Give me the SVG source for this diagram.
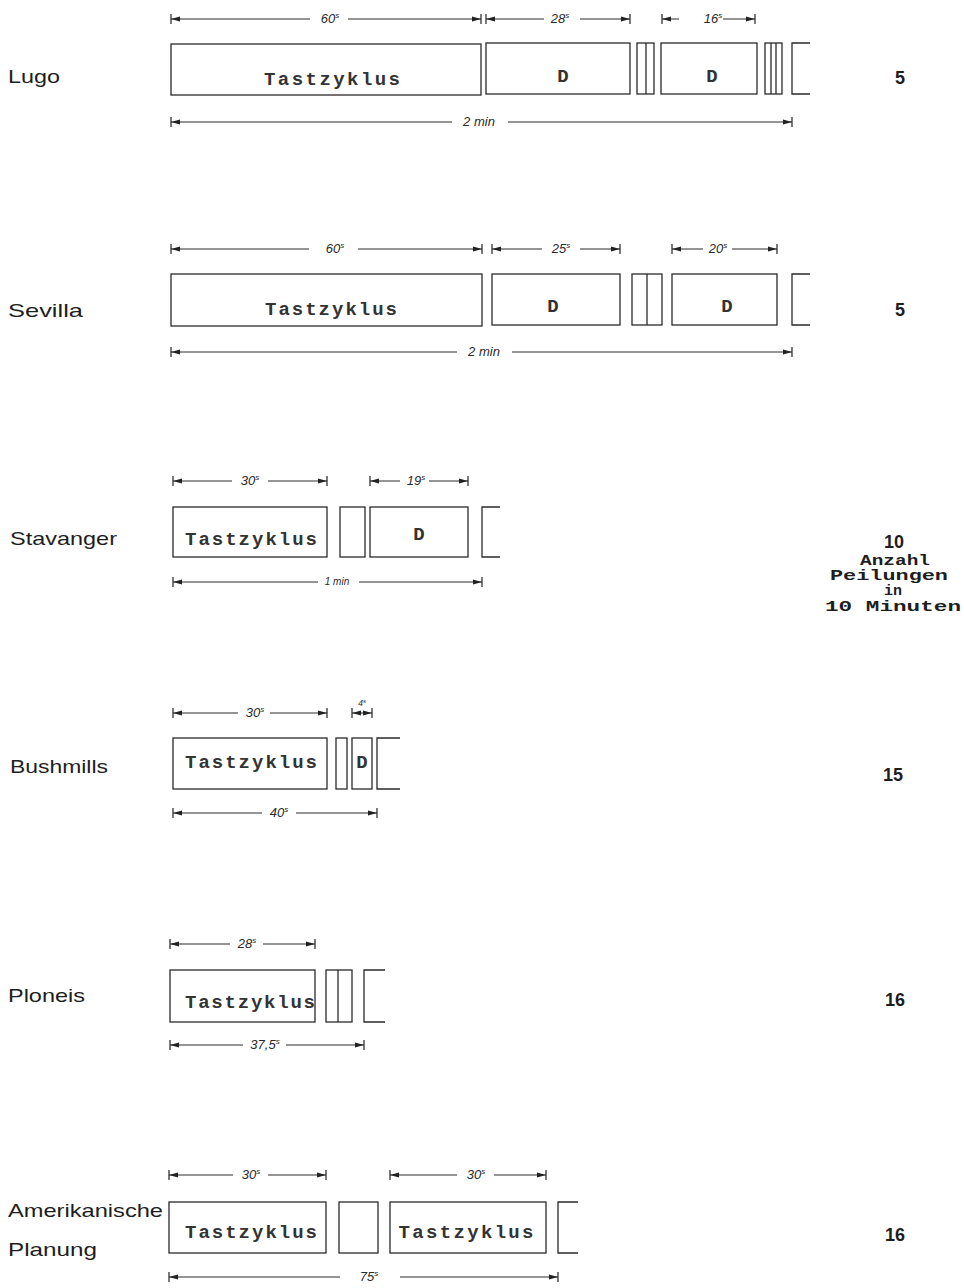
<svg xmlns="http://www.w3.org/2000/svg" width="964" height="1288" viewBox="0 0 964 1288">
<defs>
<marker id="ar" viewBox="-11 -6 12 12" refX="0" refY="0" markerWidth="12" markerHeight="12" markerUnits="userSpaceOnUse" orient="auto-start-reverse">
<path d="M-9,-2.6 L0,0 L-9,2.6 z" fill="#222"/>
<path d="M0,-5 V5" stroke="#222" stroke-width="1.2"/>
</marker>
<style>
.box{fill:none;stroke:#2a2a2a;stroke-width:1.3}
.dim{fill:none;stroke:#2a2a2a;stroke-width:1}
.ds{marker-start:url(#ar)}
.de{marker-end:url(#ar)}
.lbl{font-family:"Liberation Sans",Arial,sans-serif;font-size:19px;fill:#1e1e1e}
.tz{font-family:"Liberation Mono","Courier New",monospace;font-weight:bold;font-size:19px;fill:#333;text-anchor:middle}
.dl{font-family:"Liberation Sans",Arial,sans-serif;font-style:italic;font-size:13px;fill:#2a2a2a;text-anchor:middle}
.sup{font-size:8px}
.num{font-family:"Liberation Sans",Arial,sans-serif;font-weight:bold;font-size:18px;fill:#1e1e1e;text-anchor:middle}
.tw{font-family:"Liberation Mono","Courier New",monospace;font-weight:bold;font-size:14px;fill:#1e1e1e;text-anchor:middle}
</style>
</defs>
<rect width="964" height="1288" fill="#ffffff"/>

<g id="lugo">
<text class="lbl" x="8" y="83" textLength="52" lengthAdjust="spacingAndGlyphs">Lugo</text>
<rect class="box" x="171" y="44" width="310" height="51"/>
<text class="tz" x="332" y="85" textLength="136">Tastzyklus</text>
<rect class="box" x="486" y="43" width="144" height="51"/>
<text class="tz" x="563" y="82">D</text>
<rect class="box" x="637" y="43" width="17" height="51"/>
<path class="box" d="M646,43 V94"/>
<rect class="box" x="661" y="43" width="96" height="51"/>
<text class="tz" x="712" y="82">D</text>
<rect class="box" x="765" y="43" width="17" height="51"/>
<path class="box" d="M771,43 V94 M776,43 V94"/>
<path class="box" d="M810,43 H792 V94 H810"/>
<text class="num" x="900" y="84">5</text>
</g>

<g id="sevilla">
<text class="lbl" x="8" y="317" textLength="75" lengthAdjust="spacingAndGlyphs">Sevilla</text>
<rect class="box" x="171" y="274" width="311" height="52"/>
<text class="tz" x="331" y="315" textLength="132">Tastzyklus</text>
<rect class="box" x="492" y="274" width="128" height="51"/>
<text class="tz" x="553" y="312">D</text>
<rect class="box" x="632" y="274" width="30" height="51"/>
<path class="box" d="M647,274 V325"/>
<rect class="box" x="672" y="274" width="105" height="51"/>
<text class="tz" x="727" y="312">D</text>
<path class="box" d="M810,274 H792 V325 H810"/>
<text class="num" x="900" y="316">5</text>
</g>

<g id="stavanger">
<text class="lbl" x="10" y="545" textLength="107" lengthAdjust="spacingAndGlyphs">Stavanger</text>
<rect class="box" x="173" y="507" width="154" height="50"/>
<text class="tz" x="251" y="545" textLength="132">Tastzyklus</text>
<rect class="box" x="340" y="507" width="25" height="50"/>
<rect class="box" x="370" y="507" width="98" height="50"/>
<text class="tz" x="419" y="540">D</text>
<path class="box" d="M500,507 H482 V557 H500"/>
<text class="num" x="894" y="548">10</text>
<text class="tw" x="895" y="565" textLength="70" lengthAdjust="spacingAndGlyphs">Anzahl</text>
<text class="tw" x="889" y="580" textLength="118" lengthAdjust="spacingAndGlyphs">Peilungen</text>
<text class="tw" x="893" y="595" textLength="18" lengthAdjust="spacingAndGlyphs">in</text>
<text class="tw" x="893" y="611" textLength="136" lengthAdjust="spacingAndGlyphs">10 Minuten</text>
</g>

<g id="bushmills">
<text class="lbl" x="10" y="773" textLength="98" lengthAdjust="spacingAndGlyphs">Bushmills</text>
<rect class="box" x="173" y="738" width="154" height="51"/>
<text class="tz" x="251" y="768" textLength="132">Tastzyklus</text>
<rect class="box" x="336" y="738" width="11" height="51"/>
<rect class="box" x="352" y="738" width="20" height="51"/>
<text class="tz" x="362" y="768">D</text>
<path class="box" d="M400,738 H377 V789 H400"/>
<text class="num" x="893" y="781">15</text>
</g>

<g id="ploneis">
<text class="lbl" x="8" y="1002" textLength="77" lengthAdjust="spacingAndGlyphs">Ploneis</text>
<rect class="box" x="170" y="970" width="145" height="52"/>
<text class="tz" x="250" y="1008" textLength="130">Tastzyklus</text>
<rect class="box" x="326" y="970" width="26" height="52"/>
<path class="box" d="M338,970 V1022"/>
<path class="box" d="M385,970 H364 V1022 H385"/>
<text class="num" x="895" y="1006">16</text>
</g>

<g id="amerikanische">
<text class="lbl" x="8" y="1217" textLength="155" lengthAdjust="spacingAndGlyphs">Amerikanische</text>
<text class="lbl" x="8" y="1256" textLength="89" lengthAdjust="spacingAndGlyphs">Planung</text>
<rect class="box" x="169" y="1202" width="157" height="51"/>
<text class="tz" x="251" y="1238" textLength="132">Tastzyklus</text>
<rect class="box" x="339" y="1202" width="39" height="51"/>
<rect class="box" x="390" y="1202" width="156" height="51"/>
<text class="tz" x="466" y="1238" textLength="135">Tastzyklus</text>
<path class="box" d="M578,1202 H558 V1253 H578"/>
<text class="num" x="895" y="1241">16</text>
</g>

<g id="connectors">
<path class="dim ds" d="M171,19 H310"/><path class="dim de" d="M348,19 H481"/>
<text class="dl" x="330" y="23">60<tspan class="sup" dy="-5">s</tspan></text>
<path class="dim ds" d="M486,19 H544"/><path class="dim de" d="M580,19 H630"/>
<text class="dl" x="560" y="23">28<tspan class="sup" dy="-5">s</tspan></text>
<path class="dim ds" d="M662,19 H679"/><path class="dim de" d="M723,19 H755"/>
<text class="dl" x="713" y="23">16<tspan class="sup" dy="-5">s</tspan></text>
<path class="dim ds" d="M171,122 H452"/><path class="dim de" d="M508,122 H792"/>
<text class="dl" x="479" y="126">2 min</text>
<path class="dim ds" d="M171,249 H309"/><path class="dim de" d="M358,249 H482"/>
<text class="dl" x="335" y="253">60<tspan class="sup" dy="-5">s</tspan></text>
<path class="dim ds" d="M492,249 H542"/><path class="dim de" d="M580,249 H620"/>
<text class="dl" x="561" y="253">25<tspan class="sup" dy="-5">s</tspan></text>
<path class="dim ds" d="M672,249 H703"/><path class="dim de" d="M732,249 H777"/>
<text class="dl" x="718" y="253">20<tspan class="sup" dy="-5">s</tspan></text>
<path class="dim ds" d="M171,352 H457"/><path class="dim de" d="M512,352 H792"/>
<text class="dl" x="484" y="356">2 min</text>
<path class="dim ds" d="M173,481 H232"/><path class="dim de" d="M268,481 H327"/>
<text class="dl" x="250" y="485">30<tspan class="sup" dy="-5">s</tspan></text>
<path class="dim ds" d="M370,481 H400"/><path class="dim de" d="M429,481 H468"/>
<text class="dl" x="416" y="485">19<tspan class="sup" dy="-5">s</tspan></text>
<path class="dim ds" d="M173,582 H318"/><path class="dim de" d="M359,582 H482"/>
<text class="dl" x="337" y="585" style="font-size:10px">1 min</text>
<path class="dim ds" d="M173,713 H238"/><path class="dim de" d="M270,713 H327"/>
<text class="dl" x="255" y="717">30<tspan class="sup" dy="-5">s</tspan></text>
<path class="dim ds de" d="M352,713 H372"/>
<text class="dl" x="362" y="706" style="font-size:9px">4<tspan class="sup" dy="-3" style="font-size:6px">s</tspan></text>
<path class="dim ds" d="M173,813 H262"/><path class="dim de" d="M296,813 H377"/>
<text class="dl" x="279" y="817">40<tspan class="sup" dy="-5">s</tspan></text>
<path class="dim ds" d="M170,944 H230"/><path class="dim de" d="M263,944 H315"/>
<text class="dl" x="247" y="948">28<tspan class="sup" dy="-5">s</tspan></text>
<path class="dim ds" d="M170,1045 H243"/><path class="dim de" d="M286,1045 H364"/>
<text class="dl" x="265" y="1049">37,5<tspan class="sup" dy="-5">s</tspan></text>
<path class="dim ds" d="M169,1175 H233"/><path class="dim de" d="M268,1175 H326"/>
<text class="dl" x="251" y="1179">30<tspan class="sup" dy="-5">s</tspan></text>
<path class="dim ds" d="M390,1175 H457"/><path class="dim de" d="M494,1175 H546"/>
<text class="dl" x="476" y="1179">30<tspan class="sup" dy="-5">s</tspan></text>
<path class="dim ds" d="M169,1277 H340"/><path class="dim de" d="M400,1277 H558"/>
<text class="dl" x="369" y="1281">75<tspan class="sup" dy="-5">s</tspan></text>
</g>
</svg>
